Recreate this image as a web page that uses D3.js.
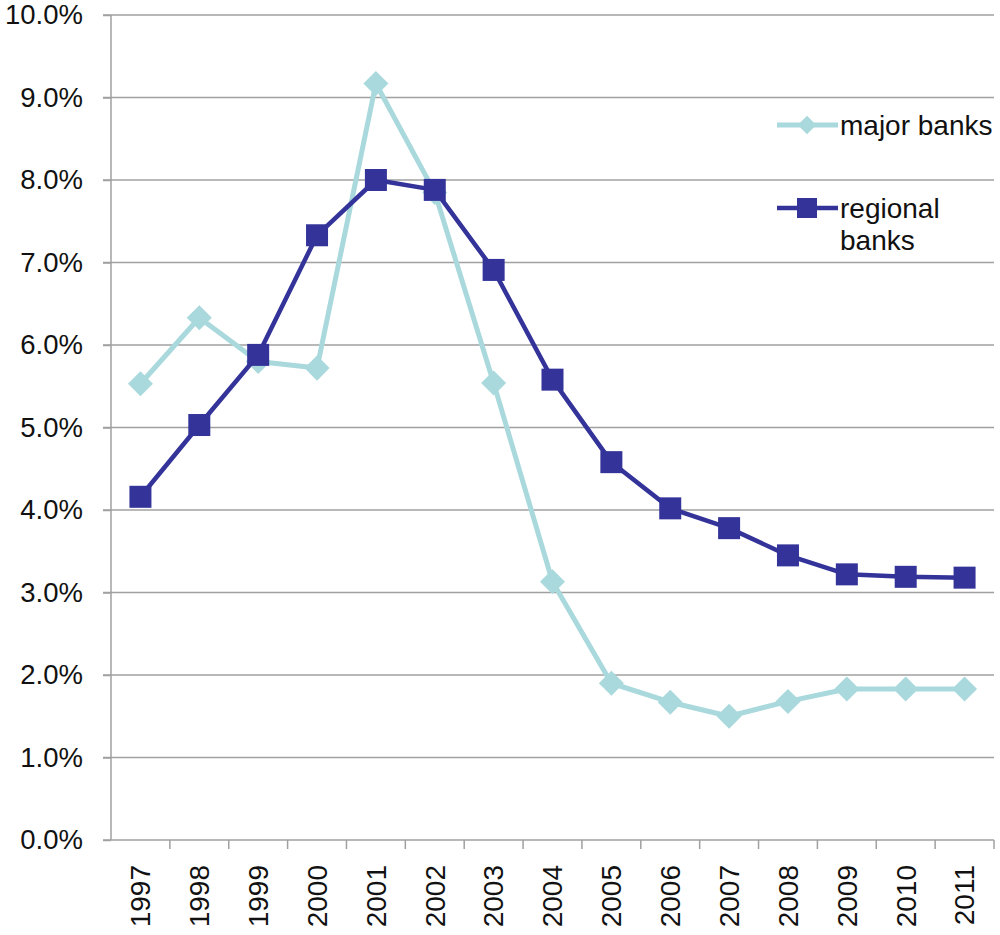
<!DOCTYPE html>
<html><head><meta charset="utf-8">
<script src="https://cdn.jsdelivr.net/npm/d3@7"></script>
<style>body{margin:0;background:#fff}svg{display:block;font-family:"Liberation Sans",Arial,sans-serif}</style>
</head><body>
<svg id="c" width="1000" height="935"></svg>
<script>
const years = ["1997","1998","1999","2000","2001","2002","2003","2004","2005","2006","2007","2008","2009","2010","2011"];
const majorBanks = [5.53,6.33,5.8,5.72,9.17,7.85,5.54,3.13,1.9,1.67,1.5,1.68,1.83,1.83,1.83];
const regionalBanks = [4.16,5.03,5.88,7.33,8.0,7.88,6.91,5.58,4.58,4.02,3.78,3.45,3.22,3.19,3.18];
const yTicks = [0,1,2,3,4,5,6,7,8,9,10];

const svg = d3.select("#c");
const L = 111, R = 994, T = 15, B = 840;
const x = d3.scaleBand().domain(years).range([L, R]);
const y = d3.scaleLinear().domain([0, 10]).range([B, T]);
const gridColor = "#a0a0a0";

// gridlines
svg.append("g").selectAll("line").data(yTicks.filter(d => d > 0)).join("line")
  .attr("x1", L - 8).attr("x2", R).attr("y1", d => y(d)).attr("y2", d => y(d))
  .attr("stroke", gridColor).attr("stroke-width", 1.5);

// y axis
const ya = svg.append("g").attr("transform", `translate(${L},0)`)
  .call(d3.axisLeft(y).tickValues(yTicks).tickFormat(d => d.toFixed(1) + "%").tickSize(8).tickPadding(20));
ya.select(".domain").attr("stroke", gridColor).attr("stroke-width", 1.5).attr("d", `M0,${T}V${B}`);
ya.selectAll(".tick line").attr("stroke", gridColor).attr("stroke-width", 1.5);
ya.selectAll(".tick text").attr("font-size", 27.5).attr("fill", "#111").attr("font-family", "Liberation Sans, Arial, sans-serif");

// x axis
const xa = svg.append("g").attr("transform", `translate(0,${B})`)
  .call(d3.axisBottom(x).tickSize(0).tickPadding(0));
xa.select(".domain").attr("stroke", gridColor).attr("stroke-width", 1.5).attr("d", `M${L - 8},0H${R}`);
// tick marks between categories
svg.append("g").selectAll("line").data(years).join("line")
  .attr("x1", d => x(d) + x.bandwidth()).attr("x2", d => x(d) + x.bandwidth())
  .attr("y1", B).attr("y2", B + 9).attr("stroke", gridColor).attr("stroke-width", 1.5);
xa.selectAll(".tick text")
  .attr("font-size", 28).attr("fill", "#111").attr("font-family", "Liberation Sans, Arial, sans-serif")
  .attr("transform", "translate(0,25) rotate(-90)")
  .attr("text-anchor", "end").attr("dx", 0).attr("dy", "0.35em").attr("y", 0).attr("x", 0);

const cx = d => x(d) + x.bandwidth() / 2;
const majorColor = "#a9d9dc", regColor = "#333399";

const majorData = years.map((d, i) => ({ year: d, v: majorBanks[i] }));
const regData = years.map((d, i) => ({ year: d, v: regionalBanks[i] }));
const line = d3.line().x(d => cx(d.year)).y(d => y(d.v));

svg.append("path").datum(majorData).attr("d", line).attr("fill", "none")
  .attr("stroke", majorColor).attr("stroke-width", 5).attr("stroke-linejoin", "round");
svg.append("g").selectAll("path").data(majorData).join("path")
  .attr("d", d3.symbol(d3.symbolDiamond2, 400))
  .attr("transform", d => `translate(${cx(d.year)},${y(d.v)})`)
  .attr("fill", majorColor);

svg.append("path").datum(regData).attr("d", line).attr("fill", "none")
  .attr("stroke", regColor).attr("stroke-width", 4.5).attr("stroke-linejoin", "round");
svg.append("g").selectAll("rect").data(regData).join("rect")
  .attr("x", d => cx(d.year) - 11).attr("y", d => y(d.v) - 11)
  .attr("width", 22).attr("height", 22).attr("fill", regColor);

// legend
const lg = svg.append("g");
lg.append("line").attr("x1", 777).attr("x2", 838).attr("y1", 125).attr("y2", 125)
  .attr("stroke", majorColor).attr("stroke-width", 5);
lg.append("path").attr("d", d3.symbol(d3.symbolDiamond2, 220)).attr("transform", "translate(807,125)").attr("fill", majorColor);
lg.append("text").attr("x", 840).attr("y", 135).attr("font-size", 28).attr("fill", "#111").text("major banks");
lg.append("line").attr("x1", 777).attr("x2", 838).attr("y1", 208).attr("y2", 208)
  .attr("stroke", regColor).attr("stroke-width", 4.5);
lg.append("rect").attr("x", 797).attr("y", 198).attr("width", 20).attr("height", 20).attr("fill", regColor);
lg.append("text").attr("x", 840).attr("y", 218).attr("font-size", 28).attr("fill", "#111").text("regional");
lg.append("text").attr("x", 840).attr("y", 250).attr("font-size", 28).attr("fill", "#111").text("banks");
</script>
</body></html>
